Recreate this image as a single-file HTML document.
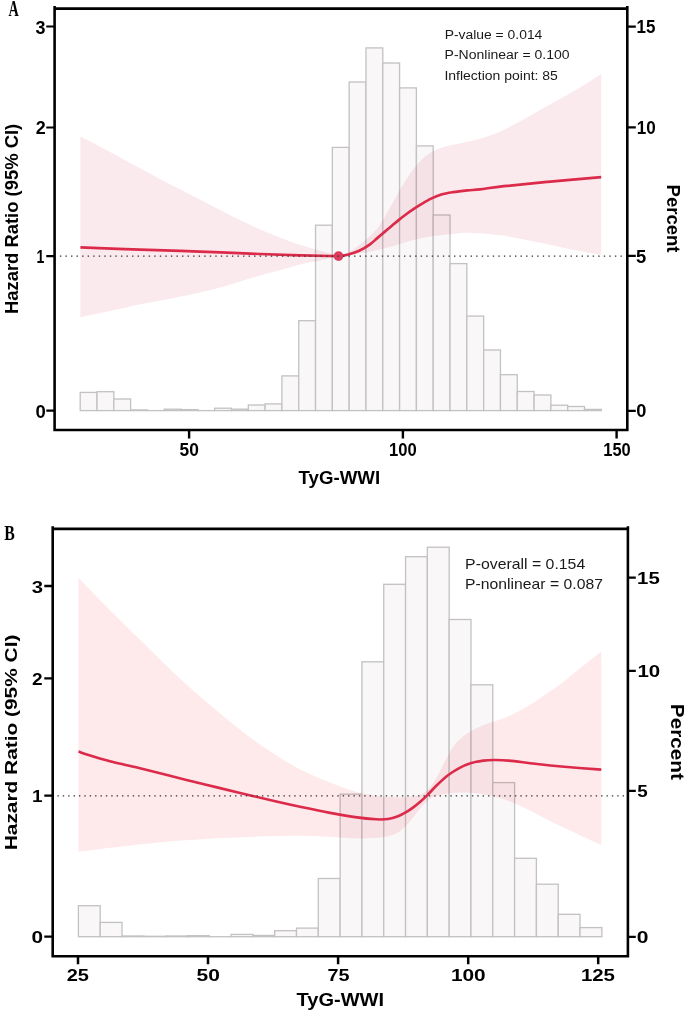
<!DOCTYPE html>
<html><head><meta charset="utf-8"><title>Restricted cubic spline: TyG-WWI and hazard ratio</title>
<style>
html,body{margin:0;padding:0;background:#fff;}
body{width:685px;height:1011px;overflow:hidden;position:relative;font-family:"Liberation Sans",sans-serif;}
svg{position:absolute;left:0;top:0;display:block;}
</style></head><body>
<svg width="685" height="1011" viewBox="0 0 685 1011">
<rect x="0" y="0" width="685" height="1011" fill="#fff"/>

<!-- ================= Panel A ================= -->
<g fill="#F9F7F8" stroke="#C2C1C3" stroke-width="1.3">
<rect x="80.2" y="392.4" width="16.81" height="18.2"/>
<rect x="97.01" y="391.7" width="16.81" height="18.9"/>
<rect x="113.82" y="399" width="16.81" height="11.6"/>
<rect x="130.63" y="409.9" width="16.81" height="0.7"/>
<line x1="147.44" y1="410.6" x2="164.25" y2="410.6"/>
<rect x="164.25" y="409.2" width="16.81" height="1.4"/>
<rect x="181.06" y="409.6" width="16.81" height="1"/>
<line x1="197.87" y1="410.6" x2="214.68" y2="410.6"/>
<rect x="214.68" y="408.2" width="16.81" height="2.4"/>
<rect x="231.49" y="409.2" width="16.81" height="1.4"/>
<rect x="248.3" y="405" width="16.81" height="5.6"/>
<rect x="265.11" y="403.9" width="16.81" height="6.7"/>
<rect x="281.92" y="375.9" width="16.81" height="34.7"/>
<rect x="298.73" y="320.7" width="16.81" height="89.9"/>
<rect x="315.54" y="225.2" width="16.81" height="185.4"/>
<rect x="332.35" y="147.4" width="16.81" height="263.2"/>
<rect x="349.16" y="82" width="16.81" height="328.6"/>
<rect x="365.97" y="47.9" width="16.81" height="362.7"/>
<rect x="382.78" y="63" width="16.81" height="347.6"/>
<rect x="399.59" y="87.9" width="16.81" height="322.7"/>
<rect x="416.4" y="145.9" width="16.81" height="264.7"/>
<rect x="433.21" y="215" width="16.81" height="195.6"/>
<rect x="450.02" y="263.6" width="16.81" height="147"/>
<rect x="466.83" y="316.1" width="16.81" height="94.5"/>
<rect x="483.64" y="350" width="16.81" height="60.6"/>
<rect x="500.45" y="374.7" width="16.81" height="35.9"/>
<rect x="517.26" y="391.5" width="16.81" height="19.1"/>
<rect x="534.07" y="395" width="16.81" height="15.6"/>
<rect x="550.88" y="405.2" width="16.81" height="5.4"/>
<rect x="567.69" y="406.5" width="16.81" height="4.1"/>
<rect x="584.5" y="409.4" width="16.81" height="1.2"/>
</g>
<path d="M80.4,136.6 C85.5,139.25 100.57,146.97 111,152.5 C121.43,158.03 133.17,164.5 143,169.8 C152.83,175.1 160.5,179.35 170,184.3 C179.5,189.25 190.13,194.42 200,199.5 C209.87,204.58 219.47,209.93 229.2,214.8 C238.93,219.67 248.67,224.43 258.4,228.7 C268.13,232.97 280.67,237.73 287.6,240.4 C294.53,243.07 294.6,243 300,244.7 C305.4,246.4 313.58,248.72 320,250.6 C326.42,252.48 335.42,255.1 338.5,256 L338.5,256 C339.75,255.55 343.52,254.4 346,253.3 C348.48,252.2 351.07,250.85 353.4,249.4 C355.73,247.95 358.07,246.12 360,244.6 C361.93,243.08 363.33,241.75 365,240.3 C366.67,238.85 368.33,237.48 370,235.9 C371.67,234.32 373.33,232.65 375,230.8 C376.67,228.95 377.47,228.7 380,224.8 C382.53,220.9 386.8,213.37 390.2,207.4 C393.6,201.43 396.98,194.78 400.4,189 C403.82,183.22 407.28,177.47 410.7,172.7 C414.12,167.93 417.5,163.8 420.9,160.4 C424.3,157 427.7,154.42 431.1,152.3 C434.5,150.18 438.15,148.85 441.3,147.7 C444.45,146.55 445.03,146.5 450,145.4 C454.97,144.3 463.5,143.07 471.1,141.1 C478.7,139.13 487.42,136.9 495.6,133.6 C503.78,130.3 511.43,125.98 520.2,121.3 C528.97,116.62 538.87,110.75 548.2,105.5 C557.53,100.25 567.37,95.05 576.2,89.8 C585.03,84.55 597.03,76.63 601.2,74 L601.2,254.7 C596.45,253.87 583.28,251.78 572.7,249.7 C562.12,247.62 549.38,244.55 537.7,242.2 C526.02,239.85 513.42,237.15 502.6,235.6 C491.78,234.05 481.17,233.18 472.8,232.9 C464.43,232.62 459.2,233.33 452.4,233.9 C445.6,234.47 438.82,235.22 432,236.3 C425.18,237.38 418.32,238.68 411.5,240.4 C404.68,242.12 397.9,244.72 391.1,246.6 C384.3,248.48 377.85,250.35 370.7,251.7 C363.55,253.05 353.57,253.98 348.2,254.7 C342.83,255.42 340.12,255.78 338.5,256 L338.5,256 C335.42,256.77 326.42,259.18 320,260.6 C313.58,262.02 305.4,263.25 300,264.5 C294.6,265.75 294.53,266.17 287.6,268.1 C280.67,270.03 268.13,273.3 258.4,276.1 C248.67,278.9 238.93,282.15 229.2,284.9 C219.47,287.65 209.87,290.28 200,292.6 C190.13,294.92 179.5,296.93 170,298.8 C160.5,300.67 152.83,301.8 143,303.8 C133.17,305.8 121.43,308.55 111,310.8 C100.57,313.05 85.5,316.22 80.4,317.3 Z" fill="#FBEAED" style="mix-blend-mode:multiply"/>
<path d="M80.4,247.4 C90.33,247.77 120.07,248.9 140,249.6 C159.93,250.3 180,250.87 200,251.6 C220,252.33 243.33,253.38 260,254 C276.67,254.62 288.33,254.97 300,255.3 C311.67,255.63 323.62,255.87 330,256 C336.38,256.13 335.38,256.32 338.3,256.1 C341.22,255.88 344.02,255.58 347.5,254.7 C350.98,253.82 355.45,252.53 359.2,250.8 C362.95,249.07 366.98,246.42 370,244.3 C373.02,242.18 374.87,240.17 377.3,238.1 C379.73,236.03 382.17,233.97 384.6,231.9 C387.03,229.83 389.47,227.75 391.9,225.7 C394.33,223.65 396.77,221.55 399.2,219.6 C401.63,217.65 404.07,215.78 406.5,214 C408.93,212.22 411.4,210.5 413.8,208.9 C416.2,207.3 418.02,206.12 420.9,204.4 C423.78,202.68 427.7,200.25 431.1,198.6 C434.5,196.95 437.65,195.57 441.3,194.5 C444.95,193.43 448.62,192.88 453,192.2 C457.38,191.52 463.1,190.88 467.6,190.4 C472.1,189.92 473.97,190 480,189.3 C486.03,188.6 492.53,187.43 503.8,186.2 C515.07,184.97 531.37,183.4 547.6,181.9 C563.83,180.4 592.27,177.98 601.2,177.2" fill="none" stroke="#DC2B4A" stroke-width="2.7"/>
<circle cx="338.5" cy="256.1" r="4.85" fill="#DD3A5C"/>
<line x1="59.9" y1="256.1" x2="624" y2="256.1" stroke="#333" stroke-width="1.3" stroke-dasharray="1.4 4.15"/>
<g stroke="#000" fill="none">
<path d="M54.6,6 V430 M53.3,430 H628.6 M627.3,6 V431.3 M54.6,8.6 H627.3" stroke-width="2.6"/>
<path d="M46.3,26.5 H54.6 M46.3,127.5 H54.6 M46.3,256.2 H54.6 M46.3,410.7 H54.6" stroke-width="2.2"/>
<path d="M627.3,26.6 H635.8 M627.3,127.4 H635.8 M627.3,255.9 H635.8 M627.3,410.8 H635.8" stroke-width="2.2"/>
<path d="M189.1,430 V438.5 M402.9,430 V438.5 M616.6,430 V438.5" stroke-width="2.4"/>
</g>
<text transform="translate(8.48,16.35) scale(0.631,1)" font-family='"Liberation Serif",serif' font-weight="bold" font-size="22.56" fill="#000">A</text>
<text transform="translate(35.62,33.54) scale(1.017,1)" font-family='"Liberation Sans",sans-serif' font-weight="bold" font-size="17.60" fill="#000">3</text>
<text transform="translate(35.80,133.83) scale(1.021,1)" font-family='"Liberation Sans",sans-serif' font-weight="bold" font-size="17.60" fill="#000">2</text>
<text transform="translate(36.48,262.83) scale(0.800,1)" font-family='"Liberation Sans",sans-serif' font-weight="bold" font-size="17.60" fill="#000">1</text>
<text transform="translate(35.51,417.59) scale(1.052,1)" font-family='"Liberation Sans",sans-serif' font-weight="bold" font-size="17.60" fill="#000">0</text>
<text transform="translate(636.60,33.25) scale(0.965,1)" font-family='"Liberation Sans",sans-serif' font-weight="bold" font-size="17.60" fill="#000">15</text>
<text transform="translate(636.72,133.85) scale(0.970,1)" font-family='"Liberation Sans",sans-serif' font-weight="bold" font-size="17.60" fill="#000">10</text>
<text transform="translate(636.03,263.30) scale(1.044,1)" font-family='"Liberation Sans",sans-serif' font-weight="bold" font-size="17.60" fill="#000">5</text>
<text transform="translate(636.29,417.49) scale(1.035,1)" font-family='"Liberation Sans",sans-serif' font-weight="bold" font-size="17.60" fill="#000">0</text>
<text transform="translate(179.57,456.05) scale(0.984,1)" font-family='"Liberation Sans",sans-serif' font-weight="bold" font-size="17.60" fill="#000">50</text>
<text transform="translate(389.12,456.34) scale(0.944,1)" font-family='"Liberation Sans",sans-serif' font-weight="bold" font-size="17.60" fill="#000">100</text>
<text transform="translate(603.24,456.05) scale(0.935,1)" font-family='"Liberation Sans",sans-serif' font-weight="bold" font-size="17.60" fill="#000">150</text>
<text transform="translate(298.56,483.76) scale(0.979,1)" font-family='"Liberation Sans",sans-serif' font-weight="bold" font-size="19.06" fill="#000">TyG-WWI</text>
<text transform="translate(18.33,314.07) rotate(-90) scale(1.002,1)" font-family='"Liberation Sans",sans-serif' font-weight="bold" font-size="18.39" fill="#000">Hazard Ratio (95% CI)</text>
<text transform="translate(666.58,184.61) rotate(90) scale(0.979,1)" font-family='"Liberation Sans",sans-serif' font-weight="bold" font-size="18.88" fill="#000">Percent</text>
<text transform="translate(444.67,39.00) scale(1.030,1)" font-family='"Liberation Sans",sans-serif' font-weight="normal" font-size="13.50" fill="#1a1a1a">P-value = 0.014</text>
<text transform="translate(444.56,58.90) scale(1.039,1)" font-family='"Liberation Sans",sans-serif' font-weight="normal" font-size="13.50" fill="#1a1a1a">P-Nonlinear = 0.100</text>
<text transform="translate(444.44,79.91) scale(1.036,1)" font-family='"Liberation Sans",sans-serif' font-weight="normal" font-size="13.50" fill="#1a1a1a">Inflection point: 85</text>

<!-- ================= Panel B ================= -->
<g fill="#F9F7F8" stroke="#C2C1C3" stroke-width="1.3">
<rect x="78.4" y="905.7" width="21.81" height="31"/>
<rect x="100.21" y="922.4" width="21.81" height="14.3"/>
<rect x="122.02" y="936" width="21.81" height="0.7"/>
<rect x="143.83" y="936.3" width="21.81" height="0.4"/>
<rect x="165.64" y="936" width="21.81" height="0.7"/>
<rect x="187.45" y="935.7" width="21.81" height="1"/>
<line x1="209.26" y1="936.7" x2="231.07" y2="936.7"/>
<rect x="231.07" y="934.4" width="21.81" height="2.3"/>
<rect x="252.88" y="935.4" width="21.81" height="1.3"/>
<rect x="274.69" y="930.7" width="21.81" height="6"/>
<rect x="296.5" y="928.1" width="21.81" height="8.6"/>
<rect x="318.31" y="878.5" width="21.81" height="58.2"/>
<rect x="340.12" y="794.2" width="21.81" height="142.5"/>
<rect x="361.93" y="661.8" width="21.81" height="274.9"/>
<rect x="383.74" y="584.3" width="21.81" height="352.4"/>
<rect x="405.55" y="556.7" width="21.81" height="380"/>
<rect x="427.36" y="547.2" width="21.81" height="389.5"/>
<rect x="449.17" y="619.5" width="21.81" height="317.2"/>
<rect x="470.98" y="684.8" width="21.81" height="251.9"/>
<rect x="492.79" y="782.6" width="21.81" height="154.1"/>
<rect x="514.6" y="858.3" width="21.81" height="78.4"/>
<rect x="536.41" y="884.2" width="21.81" height="52.5"/>
<rect x="558.22" y="914.3" width="21.81" height="22.4"/>
<rect x="580.03" y="927.6" width="21.81" height="9.1"/>
</g>
<path d="M78.5,577.7 C81.98,581.32 89.35,589.25 99.4,599.4 C109.45,609.55 125.67,625.67 138.8,638.6 C151.93,651.53 165.05,664.85 178.2,677 C191.35,689.15 204.55,700.58 217.7,711.5 C230.85,722.42 243.97,733.17 257.1,742.5 C270.23,751.83 284.35,760.83 296.5,767.5 C308.65,774.17 320.23,778.5 330,782.5 C339.77,786.5 347.6,789.33 355.1,791.5 C362.6,793.67 368.35,794.53 375,795.5 C381.65,796.47 389.17,797.08 395,797.3 C400.83,797.52 405.67,797.27 410,796.8 C414.33,796.33 417.83,795.88 421,794.5 C424.17,793.12 426.5,791.17 429,788.5 C431.5,785.83 433.63,782.5 436,778.5 C438.37,774.5 440.67,769.25 443.2,764.5 C445.73,759.75 448.73,753.92 451.2,750 C453.67,746.08 454.97,744 458,741 C461.03,738 465.32,734.6 469.4,732 C473.48,729.4 478.12,727.23 482.5,725.4 C486.88,723.57 491.32,722.53 495.7,721 C500.08,719.47 504.42,718.1 508.8,716.2 C513.18,714.3 517.62,712.02 522,709.6 C526.38,707.18 530.73,704.55 535.1,701.7 C539.47,698.85 543.82,695.55 548.2,692.5 C552.58,689.45 557.02,686.68 561.4,683.4 C565.78,680.12 570.13,676.32 574.5,672.8 C578.87,669.28 583.13,665.85 587.6,662.3 C592.07,658.75 599.02,653.3 601.3,651.5 L601.3,845 C597.75,843.37 587.68,838.77 580,835.2 C572.32,831.63 563.57,827.72 555.2,823.6 C546.83,819.48 536.65,813.9 529.8,810.5 C522.95,807.1 519.35,805.35 514.1,803.2 C508.85,801.05 503.57,799.13 498.3,797.6 C493.03,796.07 488.18,794.87 482.5,794 C476.82,793.13 469.62,792.53 464.2,792.4 C458.78,792.27 454.37,792.67 450,793.2 C445.63,793.73 441.67,794.43 438,795.6 C434.33,796.77 431.17,797.8 428,800.2 C424.83,802.6 422,806.45 419,810 C416,813.55 412.83,818.25 410,821.5 C407.17,824.75 404.5,827.42 402,829.5 C399.5,831.58 398.43,832.68 395,834 C391.57,835.32 388.05,836.67 381.4,837.4 C374.75,838.13 363.67,838.5 355.1,838.4 C346.53,838.3 339.77,837.23 330,836.8 C320.23,836.37 308.65,835.83 296.5,835.8 C284.35,835.77 270.23,836.2 257.1,836.6 C243.97,837 230.85,837.5 217.7,838.2 C204.55,838.9 191.35,839.73 178.2,840.8 C165.05,841.87 151.93,843.2 138.8,844.6 C125.67,846 109.45,848.02 99.4,849.2 C89.35,850.38 81.98,851.28 78.5,851.7 Z" fill="#FEE9EB" style="mix-blend-mode:multiply"/>
<path d="M78.5,751.6 C80.83,752.37 87.25,754.6 92.5,756.2 C97.75,757.8 102.92,759.4 110,761.2 C117.08,763 125,764.57 135,767 C145,769.43 158.32,772.88 170,775.8 C181.68,778.72 193.42,781.65 205.1,784.5 C216.78,787.35 228.23,790.07 240.1,792.9 C251.97,795.73 265.9,799.1 276.3,801.5 C286.7,803.9 293.75,805.45 302.5,807.3 C311.25,809.15 320.03,810.97 328.8,812.6 C337.57,814.23 347.22,815.98 355.1,817.1 C362.98,818.22 370.62,818.98 376.1,819.3 C381.58,819.62 384.35,819.52 388,819 C391.65,818.48 394.83,817.43 398,816.2 C401.17,814.97 404.28,813.2 407,811.6 C409.72,810 412,808.32 414.3,806.6 C416.6,804.88 418.67,803.17 420.8,801.3 C422.93,799.43 424.43,798.07 427.1,795.4 C429.77,792.73 433.32,788.65 436.8,785.3 C440.28,781.95 444.27,778.17 448,775.3 C451.73,772.43 455.45,770.1 459.2,768.1 C462.95,766.1 466.48,764.55 470.5,763.3 C474.52,762.05 479.28,761.15 483.3,760.6 C487.32,760.05 490.35,760 494.6,760 C498.85,760 502.05,759.97 508.8,760.6 C515.55,761.23 526.33,762.82 535.1,763.8 C543.87,764.78 550.37,765.53 561.4,766.5 C572.43,767.47 594.65,769.08 601.3,769.6" fill="none" stroke="#DC2B4A" stroke-width="2.6"/>
<line x1="57.4" y1="795.8" x2="624.5" y2="795.8" stroke="#333" stroke-width="1.3" stroke-dasharray="1.4 3.983"/>
<g stroke="#000" fill="none">
<path d="M52.7,526.3 V956.3 M51.4,956.3 H629.2 M627.9,526.3 V957.6 M52.7,528.9 H627.9" stroke-width="2.6"/>
<path d="M44.3,586 H52.7 M44.3,678.4 H52.7 M44.3,795.7 H52.7 M44.3,936.7 H52.7" stroke-width="2.3"/>
<path d="M627.9,577.6 H635.8 M627.9,670.8 H635.8 M627.9,790.8 H635.8 M627.9,936.9 H635.8" stroke-width="2.3"/>
<path d="M78,956.3 V964.3 M208,956.3 V964.3 M338.1,956.3 V964.3 M468.2,956.3 V964.3 M598.2,956.3 V964.3" stroke-width="2.5"/>
</g>
<text transform="translate(4.37,540.15) scale(0.766,1)" font-family='"Liberation Serif",serif' font-weight="bold" font-size="20.58" fill="#000">B</text>
<text transform="translate(31.70,593.14) scale(1.181,1)" font-family='"Liberation Sans",sans-serif' font-weight="bold" font-size="17.20" fill="#000">3</text>
<text transform="translate(32.00,684.85) scale(1.108,1)" font-family='"Liberation Sans",sans-serif' font-weight="bold" font-size="17.20" fill="#000">2</text>
<text transform="translate(31.92,802.25) scale(1.103,1)" font-family='"Liberation Sans",sans-serif' font-weight="bold" font-size="17.20" fill="#000">1</text>
<text transform="translate(31.42,943.46) scale(1.206,1)" font-family='"Liberation Sans",sans-serif' font-weight="bold" font-size="17.20" fill="#000">0</text>
<text transform="translate(637.04,583.60) scale(1.186,1)" font-family='"Liberation Sans",sans-serif' font-weight="bold" font-size="17.20" fill="#000">15</text>
<text transform="translate(637.44,677.25) scale(1.192,1)" font-family='"Liberation Sans",sans-serif' font-weight="bold" font-size="17.20" fill="#000">10</text>
<text transform="translate(637.30,796.75) scale(1.093,1)" font-family='"Liberation Sans",sans-serif' font-weight="bold" font-size="17.20" fill="#000">5</text>
<text transform="translate(636.79,942.76) scale(1.225,1)" font-family='"Liberation Sans",sans-serif' font-weight="bold" font-size="17.20" fill="#000">0</text>
<text transform="translate(66.68,980.75) scale(1.163,1)" font-family='"Liberation Sans",sans-serif' font-weight="bold" font-size="17.20" fill="#000">25</text>
<text transform="translate(196.49,980.75) scale(1.220,1)" font-family='"Liberation Sans",sans-serif' font-weight="bold" font-size="17.20" fill="#000">50</text>
<text transform="translate(327.43,981.05) scale(1.152,1)" font-family='"Liberation Sans",sans-serif' font-weight="bold" font-size="17.20" fill="#000">75</text>
<text transform="translate(450.93,980.85) scale(1.211,1)" font-family='"Liberation Sans",sans-serif' font-weight="bold" font-size="17.20" fill="#000">100</text>
<text transform="translate(580.90,981.45) scale(1.187,1)" font-family='"Liberation Sans",sans-serif' font-weight="bold" font-size="17.20" fill="#000">125</text>
<text transform="translate(296.51,1005.60) scale(1.081,1)" font-family='"Liberation Sans",sans-serif' font-weight="bold" font-size="18.54" fill="#000">TyG-WWI</text>
<text transform="translate(16.77,850.28) rotate(-90) scale(1.230,1)" font-family='"Liberation Sans",sans-serif' font-weight="bold" font-size="16.98" fill="#000">Hazard Ratio (95% CI)</text>
<text transform="translate(670.82,703.85) rotate(90) scale(1.082,1)" font-family='"Liberation Sans",sans-serif' font-weight="bold" font-size="19.16" fill="#000">Percent</text>
<text transform="translate(465.07,569.39) scale(1.101,1)" font-family='"Liberation Sans",sans-serif' font-weight="normal" font-size="14.40" fill="#1a1a1a">P-overall = 0.154</text>
<text transform="translate(465.12,588.52) scale(1.093,1)" font-family='"Liberation Sans",sans-serif' font-weight="normal" font-size="14.40" fill="#1a1a1a">P-nonlinear = 0.087</text>
</svg>
</body></html>
